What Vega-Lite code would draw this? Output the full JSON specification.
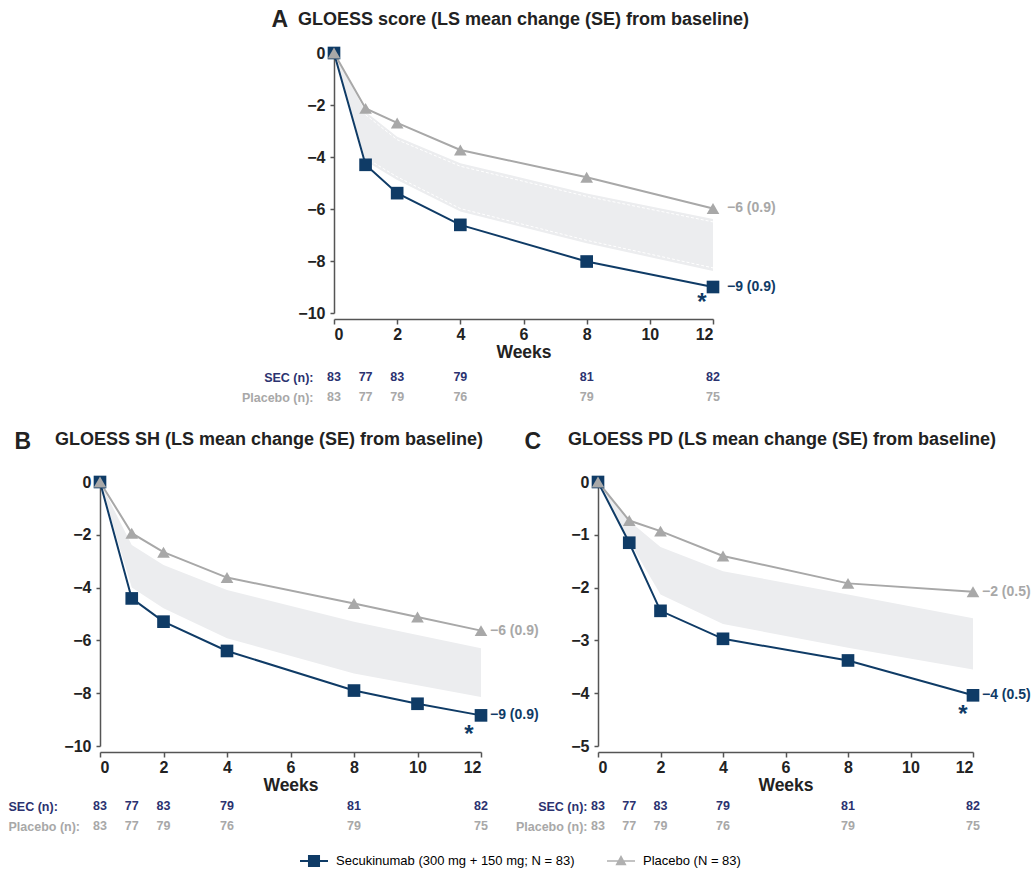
{
  "$schema": "https://vega.github.io/schema/vega-lite/v6.json",
  "padding": {"left": 8, "top": 8, "right": 5, "bottom": 5},
  "config": {
    "font": "Liberation Sans",
    "view": {"stroke": null},
    "axis": {
      "grid": false,
      "domainColor": "#555555",
      "domainWidth": 1.5,
      "tickColor": "#555555",
      "tickWidth": 1.5,
      "tickSize": 5,
      "labelFont": "Liberation Sans",
      "labelFontSize": 16,
      "labelFontWeight": "bold",
      "labelColor": "#222222",
      "titleFont": "Liberation Sans",
      "titleFontSize": 17.5,
      "titleFontWeight": "bold",
      "titleColor": "#222222"
    },
    "title": {"font": "Liberation Sans", "fontSize": 18, "fontWeight": "bold", "color": "#222222"}
  },
  "datasets": {
    "series": [
      {"panel": "A", "group": "SEC", "week": 0, "value": 0},
      {"panel": "A", "group": "SEC", "week": 1, "value": -4.3},
      {"panel": "A", "group": "SEC", "week": 2, "value": -5.39},
      {"panel": "A", "group": "SEC", "week": 4, "value": -6.61},
      {"panel": "A", "group": "SEC", "week": 8, "value": -8.02},
      {"panel": "A", "group": "SEC", "week": 12, "value": -9.0},
      {"panel": "A", "group": "Placebo", "week": 0, "value": 0},
      {"panel": "A", "group": "Placebo", "week": 1, "value": -2.13},
      {"panel": "A", "group": "Placebo", "week": 2, "value": -2.69},
      {"panel": "A", "group": "Placebo", "week": 4, "value": -3.73},
      {"panel": "A", "group": "Placebo", "week": 8, "value": -4.78},
      {"panel": "A", "group": "Placebo", "week": 12, "value": -5.98},
      {"panel": "B", "group": "SEC", "week": 0, "value": 0},
      {"panel": "B", "group": "SEC", "week": 1, "value": -4.41},
      {"panel": "B", "group": "SEC", "week": 2, "value": -5.29},
      {"panel": "B", "group": "SEC", "week": 4, "value": -6.4},
      {"panel": "B", "group": "SEC", "week": 8, "value": -7.9},
      {"panel": "B", "group": "SEC", "week": 10, "value": -8.4},
      {"panel": "B", "group": "SEC", "week": 12, "value": -8.84},
      {"panel": "B", "group": "Placebo", "week": 0, "value": 0},
      {"panel": "B", "group": "Placebo", "week": 1, "value": -1.94},
      {"panel": "B", "group": "Placebo", "week": 2, "value": -2.66},
      {"panel": "B", "group": "Placebo", "week": 4, "value": -3.62},
      {"panel": "B", "group": "Placebo", "week": 8, "value": -4.6},
      {"panel": "B", "group": "Placebo", "week": 10, "value": -5.11},
      {"panel": "B", "group": "Placebo", "week": 12, "value": -5.63},
      {"panel": "C", "group": "SEC", "week": 0, "value": 0},
      {"panel": "C", "group": "SEC", "week": 1, "value": -1.15},
      {"panel": "C", "group": "SEC", "week": 2, "value": -2.44},
      {"panel": "C", "group": "SEC", "week": 4, "value": -2.97},
      {"panel": "C", "group": "SEC", "week": 8, "value": -3.38},
      {"panel": "C", "group": "SEC", "week": 12, "value": -4.04},
      {"panel": "C", "group": "Placebo", "week": 0, "value": 0},
      {"panel": "C", "group": "Placebo", "week": 1, "value": -0.73},
      {"panel": "C", "group": "Placebo", "week": 2, "value": -0.93},
      {"panel": "C", "group": "Placebo", "week": 4, "value": -1.4},
      {"panel": "C", "group": "Placebo", "week": 8, "value": -1.92},
      {"panel": "C", "group": "Placebo", "week": 12, "value": -2.08}
    ],
    "band": [
      {"panel": "A", "week": 0, "hi": 0, "lo": 0},
      {"panel": "A", "week": 1, "hi": -2.26, "lo": -4.15},
      {"panel": "A", "week": 2, "hi": -3.22, "lo": -4.88},
      {"panel": "A", "week": 4, "hi": -4.24, "lo": -6.1},
      {"panel": "A", "week": 8, "hi": -5.4, "lo": -7.32},
      {"panel": "A", "week": 12, "hi": -6.38, "lo": -8.38},
      {"panel": "B", "week": 0, "hi": 0, "lo": 0},
      {"panel": "B", "week": 1, "hi": -2.39, "lo": -4.0},
      {"panel": "B", "week": 2, "hi": -3.14, "lo": -4.78},
      {"panel": "B", "week": 4, "hi": -4.09, "lo": -5.92},
      {"panel": "B", "week": 8, "hi": -5.29, "lo": -7.25},
      {"panel": "B", "week": 12, "hi": -6.3, "lo": -8.14},
      {"panel": "C", "week": 0, "hi": 0, "lo": 0},
      {"panel": "C", "week": 1, "hi": -0.74, "lo": -1.12},
      {"panel": "C", "week": 2, "hi": -1.23, "lo": -2.13},
      {"panel": "C", "week": 4, "hi": -1.69, "lo": -2.69},
      {"panel": "C", "week": 8, "hi": -2.13, "lo": -3.14},
      {"panel": "C", "week": 12, "hi": -2.58, "lo": -3.55}
    ],
    "ends": [
      {"panel": "A", "group": "SEC", "week": 12, "value": -9.0, "label": "−9 (0.9)"},
      {"panel": "A", "group": "Placebo", "week": 12, "value": -5.98, "label": "−6 (0.9)"},
      {"panel": "B", "group": "SEC", "week": 12, "value": -8.84, "label": "−9 (0.9)"},
      {"panel": "B", "group": "Placebo", "week": 12, "value": -5.63, "label": "−6 (0.9)"},
      {"panel": "C", "group": "SEC", "week": 12, "value": -4.04, "label": "−4 (0.5)"},
      {"panel": "C", "group": "Placebo", "week": 12, "value": -2.08, "label": "−2 (0.5)"}
    ],
    "n": [
      {"panel": "A", "group": "SEC", "week": 0, "n": 83},
      {"panel": "A", "group": "SEC", "week": 1, "n": 77},
      {"panel": "A", "group": "SEC", "week": 2, "n": 83},
      {"panel": "A", "group": "SEC", "week": 4, "n": 79},
      {"panel": "A", "group": "SEC", "week": 8, "n": 81},
      {"panel": "A", "group": "SEC", "week": 12, "n": 82},
      {"panel": "A", "group": "Placebo", "week": 0, "n": 83},
      {"panel": "A", "group": "Placebo", "week": 1, "n": 77},
      {"panel": "A", "group": "Placebo", "week": 2, "n": 79},
      {"panel": "A", "group": "Placebo", "week": 4, "n": 76},
      {"panel": "A", "group": "Placebo", "week": 8, "n": 79},
      {"panel": "A", "group": "Placebo", "week": 12, "n": 75},
      {"panel": "B", "group": "SEC", "week": 0, "n": 83},
      {"panel": "B", "group": "SEC", "week": 1, "n": 77},
      {"panel": "B", "group": "SEC", "week": 2, "n": 83},
      {"panel": "B", "group": "SEC", "week": 4, "n": 79},
      {"panel": "B", "group": "SEC", "week": 8, "n": 81},
      {"panel": "B", "group": "SEC", "week": 12, "n": 82},
      {"panel": "B", "group": "Placebo", "week": 0, "n": 83},
      {"panel": "B", "group": "Placebo", "week": 1, "n": 77},
      {"panel": "B", "group": "Placebo", "week": 2, "n": 79},
      {"panel": "B", "group": "Placebo", "week": 4, "n": 76},
      {"panel": "B", "group": "Placebo", "week": 8, "n": 79},
      {"panel": "B", "group": "Placebo", "week": 12, "n": 75},
      {"panel": "C", "group": "SEC", "week": 0, "n": 83},
      {"panel": "C", "group": "SEC", "week": 1, "n": 77},
      {"panel": "C", "group": "SEC", "week": 2, "n": 83},
      {"panel": "C", "group": "SEC", "week": 4, "n": 79},
      {"panel": "C", "group": "SEC", "week": 8, "n": 81},
      {"panel": "C", "group": "SEC", "week": 12, "n": 82},
      {"panel": "C", "group": "Placebo", "week": 0, "n": 83},
      {"panel": "C", "group": "Placebo", "week": 1, "n": 77},
      {"panel": "C", "group": "Placebo", "week": 2, "n": 79},
      {"panel": "C", "group": "Placebo", "week": 4, "n": 76},
      {"panel": "C", "group": "Placebo", "week": 8, "n": 79},
      {"panel": "C", "group": "Placebo", "week": 12, "n": 75}
    ]
  },
  "spacing": 23,
  "resolve": {"scale": {"color": "independent", "shape": "independent"}},
  "vconcat": [
    {
      "spacing": 10,
      "hconcat": [
        {"width": 131, "height": 1, "data": {"values": []}, "mark": "point"},
        {
          "bounds": "flush",
          "spacing": 54,
          "vconcat": [
            {
              "width": 379,
              "height": 260,
              "title": {"text": "GLOESS score (LS mean change (SE) from baseline)", "anchor": "middle", "frame": "group", "offset": 20, "dy": 41},
              "encoding": {
                "x": {"field": "week", "type": "quantitative", "scale": {"domain": [0, 12]}, "axis": {"values": [0, 2, 4, 6, 8, 10, 12], "title": "Weeks", "offset": 6, "labelPadding": 2, "titlePadding": 1}},
                "y": {"field": "value", "type": "quantitative", "scale": {"domain": [-10, 0], "nice": false}, "axis": {"values": [-10, -8, -6, -4, -2, 0], "tickSize": 4, "labelPadding": 5, "title": "A", "titleAngle": 0, "titleAlign": "left", "titleBaseline": "alphabetic", "titleX": -63, "titleY": -27, "titleFontSize": 23}}
              },
              "layer": [
                {"data": {"name": "band"}, "transform": [{"filter": "datum.panel === 'A'"}], "mark": {"type": "area", "color": "#ecedef"}, "encoding": {"y": {"field": "hi", "type": "quantitative"}, "y2": {"field": "lo"}}},
                {"data": {"name": "band"}, "transform": [{"filter": "datum.panel === 'A' && datum.week > 0"}], "mark": {"type": "line", "color": "#ffffff", "strokeWidth": 1, "strokeDash": [3, 2], "yOffset": 3}, "encoding": {"y": {"field": "hi", "type": "quantitative"}}},
                {"data": {"name": "band"}, "transform": [{"filter": "datum.panel === 'A' && datum.week > 0"}], "mark": {"type": "line", "color": "#ffffff", "strokeWidth": 1, "strokeDash": [3, 2], "yOffset": -3}, "encoding": {"y": {"field": "lo", "type": "quantitative"}}},
                {"data": {"name": "series"}, "transform": [{"filter": "datum.panel === 'A'"}], "mark": {"type": "line", "strokeWidth": 2}, "encoding": {"color": {"field": "group", "type": "nominal", "scale": {"domain": ["SEC", "Placebo"], "range": ["#0f3b66", "#a8a8a8"]}, "legend": null}}},
                {"data": {"name": "series"}, "transform": [{"filter": "datum.panel === 'A'"}], "mark": {"type": "point", "filled": true, "opacity": 1, "size": 160}, "encoding": {"color": {"field": "group", "type": "nominal", "scale": {"domain": ["SEC", "Placebo"], "range": ["#0f3b66", "#a8a8a8"]}, "legend": null}, "shape": {"field": "group", "type": "nominal", "scale": {"domain": ["SEC", "Placebo"], "range": ["square", "triangle-up"]}, "legend": null}}},
                {"data": {"name": "ends"}, "transform": [{"filter": "datum.panel === 'A'"}], "mark": {"type": "text", "align": "left", "dx": 14, "fontSize": 14, "fontWeight": "bold"}, "encoding": {"text": {"field": "label"}, "color": {"field": "group", "type": "nominal", "scale": {"domain": ["SEC", "Placebo"], "range": ["#0f3b66", "#a8a8a8"]}, "legend": null}}},
                {"data": {"name": "ends"}, "transform": [{"filter": "datum.panel === 'A' && datum.group === 'SEC'"}], "mark": {"type": "text", "text": "*", "dx": -11, "dy": 16, "fontSize": 24, "fontWeight": "bold", "color": "#0f3b66"}}
              ]
            },
            {
              "width": 379,
              "height": 40,
              "data": {"name": "n"},
              "transform": [{"filter": "datum.panel === 'A'"}],
              "mark": {"type": "text", "fontSize": 12.5, "fontWeight": "bold"},
              "encoding": {
                "x": {"field": "week", "type": "quantitative", "scale": {"domain": [0, 12]}, "axis": null},
                "y": {"field": "group", "type": "nominal", "scale": {"domain": ["SEC", "Placebo"]}, "axis": {"title": null, "domain": false, "ticks": false, "labelPadding": 21, "labelFontSize": 12.5, "labelExpr": "datum.value === 'SEC' ? 'SEC (n):' : 'Placebo (n):'", "labelColor": {"condition": {"test": "datum.value === 'SEC'", "value": "#2b3270"}, "value": "#a8a8a8"}}},
                "text": {"field": "n", "type": "quantitative"},
                "fill": {"field": "group", "type": "nominal", "scale": {"domain": ["SEC", "Placebo"], "range": ["#2b3270", "#a8a8a8"]}, "legend": null}
              }
            }
          ]
        }
      ]
    },
    {
      "spacing": 11,
      "resolve": {"scale": {"color": "independent", "shape": "independent"}},
      "vconcat": [
        {
          "columns": 2,
          "bounds": "flush",
          "spacing": {"row": 50, "column": 117},
          "concat": [
            {
              "width": 381,
              "height": 264,
              "title": {"text": "GLOESS SH (LS mean change (SE) from baseline)", "anchor": "start", "frame": "group", "dx": -45, "offset": 20, "dy": 39},
              "encoding": {
                "x": {"field": "week", "type": "quantitative", "scale": {"domain": [0, 12]}, "axis": {"values": [0, 2, 4, 6, 8, 10, 12], "title": "Weeks", "offset": 6, "labelPadding": 2, "titlePadding": 1}},
                "y": {"field": "value", "type": "quantitative", "scale": {"domain": [-10, 0], "nice": false}, "axis": {"values": [-10, -8, -6, -4, -2, 0], "tickSize": 4, "labelPadding": 5, "title": "B", "titleAngle": 0, "titleAlign": "left", "titleBaseline": "alphabetic", "titleX": -86, "titleY": -34, "titleFontSize": 23}}
              },
              "layer": [
                {"data": {"name": "band"}, "transform": [{"filter": "datum.panel === 'B'"}], "mark": {"type": "area", "color": "#ecedef"}, "encoding": {"y": {"field": "hi", "type": "quantitative"}, "y2": {"field": "lo"}}},
                {"data": {"name": "series"}, "transform": [{"filter": "datum.panel === 'B'"}], "mark": {"type": "line", "strokeWidth": 2}, "encoding": {"color": {"field": "group", "type": "nominal", "scale": {"domain": ["SEC", "Placebo"], "range": ["#0f3b66", "#a8a8a8"]}, "legend": null}}},
                {"data": {"name": "series"}, "transform": [{"filter": "datum.panel === 'B'"}], "mark": {"type": "point", "filled": true, "opacity": 1, "size": 160}, "encoding": {"color": {"field": "group", "type": "nominal", "scale": {"domain": ["SEC", "Placebo"], "range": ["#0f3b66", "#a8a8a8"]}, "legend": null}, "shape": {"field": "group", "type": "nominal", "scale": {"domain": ["SEC", "Placebo"], "range": ["square", "triangle-up"]}, "legend": null}}},
                {"data": {"name": "ends"}, "transform": [{"filter": "datum.panel === 'B'"}], "mark": {"type": "text", "align": "left", "dx": 9, "fontSize": 14, "fontWeight": "bold"}, "encoding": {"text": {"field": "label"}, "color": {"field": "group", "type": "nominal", "scale": {"domain": ["SEC", "Placebo"], "range": ["#0f3b66", "#a8a8a8"]}, "legend": null}}},
                {"data": {"name": "ends"}, "transform": [{"filter": "datum.panel === 'B' && datum.group === 'SEC'"}], "mark": {"type": "text", "text": "*", "dx": -12, "dy": 20, "fontSize": 24, "fontWeight": "bold", "color": "#0f3b66"}}
              ]
            },
            {
              "width": 375,
              "height": 264,
              "title": {"text": "GLOESS PD (LS mean change (SE) from baseline)", "anchor": "start", "frame": "group", "dx": -30, "offset": 20, "dy": 39},
              "encoding": {
                "x": {"field": "week", "type": "quantitative", "scale": {"domain": [0, 12]}, "axis": {"values": [0, 2, 4, 6, 8, 10, 12], "title": "Weeks", "offset": 6, "labelPadding": 2, "titlePadding": 1}},
                "y": {"field": "value", "type": "quantitative", "scale": {"domain": [-5, 0], "nice": false}, "axis": {"values": [-5, -4, -3, -2, -1, 0], "tickSize": 4, "labelPadding": 5, "title": "C", "titleAngle": 0, "titleAlign": "left", "titleBaseline": "alphabetic", "titleX": -74, "titleY": -34, "titleFontSize": 23}}
              },
              "layer": [
                {"data": {"name": "band"}, "transform": [{"filter": "datum.panel === 'C'"}], "mark": {"type": "area", "color": "#ecedef"}, "encoding": {"y": {"field": "hi", "type": "quantitative"}, "y2": {"field": "lo"}}},
                {"data": {"name": "series"}, "transform": [{"filter": "datum.panel === 'C'"}], "mark": {"type": "line", "strokeWidth": 2}, "encoding": {"color": {"field": "group", "type": "nominal", "scale": {"domain": ["SEC", "Placebo"], "range": ["#0f3b66", "#a8a8a8"]}, "legend": null}}},
                {"data": {"name": "series"}, "transform": [{"filter": "datum.panel === 'C'"}], "mark": {"type": "point", "filled": true, "opacity": 1, "size": 160}, "encoding": {"color": {"field": "group", "type": "nominal", "scale": {"domain": ["SEC", "Placebo"], "range": ["#0f3b66", "#a8a8a8"]}, "legend": null}, "shape": {"field": "group", "type": "nominal", "scale": {"domain": ["SEC", "Placebo"], "range": ["square", "triangle-up"]}, "legend": null}}},
                {"data": {"name": "ends"}, "transform": [{"filter": "datum.panel === 'C'"}], "mark": {"type": "text", "align": "left", "dx": 9, "fontSize": 14, "fontWeight": "bold"}, "encoding": {"text": {"field": "label"}, "color": {"field": "group", "type": "nominal", "scale": {"domain": ["SEC", "Placebo"], "range": ["#0f3b66", "#a8a8a8"]}, "legend": null}}},
                {"data": {"name": "ends"}, "transform": [{"filter": "datum.panel === 'C' && datum.group === 'SEC'"}], "mark": {"type": "text", "text": "*", "dx": -10, "dy": 20, "fontSize": 24, "fontWeight": "bold", "color": "#0f3b66"}}
              ]
            },
            {
              "width": 381,
              "height": 40,
              "data": {"name": "n"},
              "transform": [{"filter": "datum.panel === 'B'"}],
              "mark": {"type": "text", "fontSize": 12.5, "fontWeight": "bold"},
              "encoding": {
                "x": {"field": "week", "type": "quantitative", "scale": {"domain": [0, 12]}, "axis": null},
                "y": {"field": "group", "type": "nominal", "scale": {"domain": ["SEC", "Placebo"]}, "axis": {"title": null, "domain": false, "ticks": false, "labelAlign": "left", "labelPadding": 92, "labelFontSize": 12.5, "labelExpr": "datum.value === 'SEC' ? 'SEC (n):' : 'Placebo (n):'", "labelColor": {"condition": {"test": "datum.value === 'SEC'", "value": "#2b3270"}, "value": "#a8a8a8"}}},
                "text": {"field": "n", "type": "quantitative"},
                "fill": {"field": "group", "type": "nominal", "scale": {"domain": ["SEC", "Placebo"], "range": ["#2b3270", "#a8a8a8"]}, "legend": null}
              }
            },
            {
              "width": 375,
              "height": 40,
              "data": {"name": "n"},
              "transform": [{"filter": "datum.panel === 'C'"}],
              "mark": {"type": "text", "fontSize": 12.5, "fontWeight": "bold"},
              "encoding": {
                "x": {"field": "week", "type": "quantitative", "scale": {"domain": [0, 12]}, "axis": null},
                "y": {"field": "group", "type": "nominal", "scale": {"domain": ["SEC", "Placebo"]}, "axis": {"title": null, "domain": false, "ticks": false, "labelPadding": 11, "labelFontSize": 12.5, "labelExpr": "datum.value === 'SEC' ? 'SEC (n):' : 'Placebo (n):'", "labelColor": {"condition": {"test": "datum.value === 'SEC'", "value": "#2b3270"}, "value": "#a8a8a8"}}},
                "text": {"field": "n", "type": "quantitative"},
                "fill": {"field": "group", "type": "nominal", "scale": {"domain": ["SEC", "Placebo"], "range": ["#2b3270", "#a8a8a8"]}, "legend": null}
              }
            }
          ]
        },
        {
          "width": 1,
          "height": 1,
          "data": {"values": []},
          "mark": {"type": "point", "filled": true, "opacity": 1, "size": 784},
          "encoding": {
            "color": {"field": "g", "type": "nominal", "scale": {"domain": ["Secukinumab (300 mg + 150 mg; N = 83)", "Placebo (N = 83)"], "range": ["#0f3b66", "#b0b0b0"]}, "legend": {"orient": "none", "legendX": 200, "legendY": 0, "direction": "horizontal", "title": null, "labelFont": "Liberation Sans", "labelFontSize": 13, "labelLimit": 500, "symbolSize": 784, "symbolStrokeWidth": 0, "columnPadding": 32, "labelOffset": 8, "encode": {"labels": {"update": {"fill": {"signal": "datum.label === 'Placebo (N = 83)' ? '#b4b4b4' : '#0f3b66'"}}}}}},
            "shape": {"field": "g", "type": "nominal", "scale": {"domain": ["Secukinumab (300 mg + 150 mg; N = 83)", "Placebo (N = 83)"], "range": ["M-1,-0.07H1V0.07H-1Z M-0.43,-0.43H0.43V0.43H-0.43Z", "M-1,-0.05H1V0.05H-1Z M0,-0.42L0.4,0.3H-0.4Z"]}, "legend": {"orient": "none", "legendX": 200, "legendY": 0, "direction": "horizontal", "title": null, "labelFont": "Liberation Sans", "labelFontSize": 13, "labelLimit": 500, "symbolSize": 784, "symbolStrokeWidth": 0, "columnPadding": 32, "labelOffset": 8, "encode": {"labels": {"update": {"fill": {"signal": "datum.label === 'Placebo (N = 83)' ? '#b4b4b4' : '#0f3b66'"}}}}}}
          }
        }
      ]
    }
  ]
}
